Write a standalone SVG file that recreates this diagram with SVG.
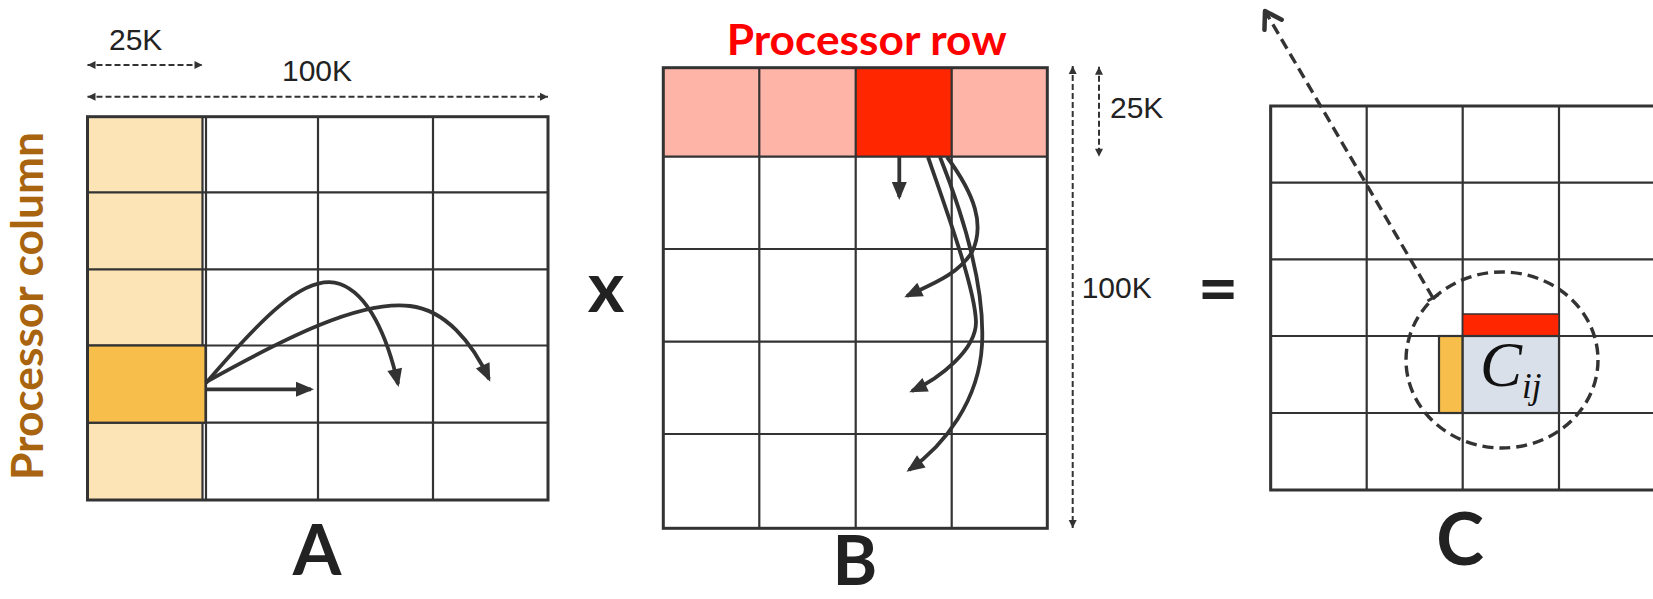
<svg xmlns="http://www.w3.org/2000/svg" width="1653" height="599" viewBox="0 0 1653 599">
<style>
.grid{fill:none;stroke:#333;stroke-width:2.2}
.border{fill:none;stroke:#333;stroke-width:3}
.cell{stroke:#333;stroke-width:2.2}
.dim{fill:none;stroke:#333;stroke-width:2;stroke-dasharray:6 3;marker-start:url(#dimhead);marker-end:url(#dimhead)}
.dimtxt{font-family:"Liberation Sans",Arial,sans-serif;font-size:30px;fill:#222}
.big{font-family:Lato,"Open Sans",sans-serif;font-weight:bold;font-size:70px;fill:#222;text-anchor:middle}
.flow{fill:none;stroke:#333;stroke-width:3.8;marker-end:url(#head)}
.ltorange{fill:#FCE4B7}
.orange{fill:#F8BE4B}
.pink{fill:#FFB4A8}
.red{fill:#FF2600}
.dash{fill:none;stroke:#333;stroke-width:3.4;stroke-dasharray:11 6}
</style>
<defs>
<marker id="dimhead" markerUnits="userSpaceOnUse" markerWidth="10" markerHeight="10" refX="8" refY="4" orient="auto-start-reverse" overflow="visible"><path d="M0,0 L8,4 L0,8z" fill="#333"/></marker>
<marker id="head" markerUnits="userSpaceOnUse" markerWidth="20" markerHeight="16" refX="15" refY="7.5" orient="auto" overflow="visible"><path d="M0,0 L18,7.5 L0,15z" fill="#333"/></marker>
<marker id="openhead" markerUnits="userSpaceOnUse" markerWidth="22" markerHeight="22" refX="19" refY="11" orient="auto" overflow="visible"><path d="M3,1 L19,11 L3,21" fill="none" stroke="#333" stroke-width="4.5" stroke-linecap="round" stroke-linejoin="round"/></marker>
</defs>

<g id="matrix-A">
<rect class="ltorange" x="87.5" y="116.7" width="115" height="383.3"/>
<path class="grid" d="M202.5,116.7V500 M206,116.7V500 M318,116.7V500 M433,116.7V500 M87.5,192.3H548 M87.5,269.3H548 M87.5,345.5H548 M87.5,422.7H548"/>
<rect class="orange cell" x="87.5" y="345.5" width="118" height="77.2"/>
<rect class="border" x="87.5" y="116.7" width="460.5" height="383.3"/>
<text class="big" x="317" y="575">A</text>
</g>

<g id="label-processor-column">
<text transform="translate(43,480) rotate(-90)" textLength="348" lengthAdjust="spacingAndGlyphs" style="font-family:Lato,'Open Sans',sans-serif;font-weight:bold;font-size:44px;fill:#A9640F">Processor column</text>
</g>

<g id="dims-A">
<path class="dim" d="M87.5,65H202.5"/>
<path class="dim" d="M87.5,96.7H548"/>
<text class="dimtxt" x="109" y="50">25K</text>
<text class="dimtxt" x="282" y="81">100K</text>
</g>

<g id="times-sign">
<text class="big" x="606" y="311.5">x</text>
</g>

<g id="matrix-B">
<rect class="pink" x="663.3" y="67.7" width="384" height="89"/>
<rect class="red" x="855.7" y="67.7" width="96" height="89"/>
<path class="grid" d="M759.3,67.7V528.3 M855.7,67.7V528.3 M951.7,67.7V528.3 M663.3,156.7H1047.3 M663.3,249H1047.3 M663.3,341.7H1047.3 M663.3,434H1047.3"/>
<rect class="border" x="663.3" y="67.7" width="384" height="460.6"/>
<text x="866.7" y="55" text-anchor="middle" textLength="280" lengthAdjust="spacingAndGlyphs" style="font-family:Lato,'Open Sans',sans-serif;font-weight:bold;font-size:42px;fill:#FF0000">Processor row</text>
<text class="big" x="855" y="585" style="font-size:68px">B</text>
</g>

<g id="dims-B">
<path class="dim" d="M1072.7,66V528"/>
<path class="dim" d="M1099,66.7V156.7"/>
<text class="dimtxt" x="1110" y="118.3">25K</text>
<text class="dimtxt" x="1081.7" y="298.3">100K</text>
</g>

<g id="equals-sign">
<text class="big" x="1218" y="313">=</text>
</g>

<g id="matrix-C">
<path class="grid" d="M1270.7,106V490 M1366.7,106V490 M1462.7,106V490 M1559,106V490 M1270.7,106H1655 M1270.7,182.7H1655 M1270.7,259.3H1655 M1270.7,336H1655 M1270.7,413H1655 M1270.7,490H1655"/>
<path class="border" d="M1655,106H1270.7V490H1655"/>
<rect class="red" x="1462.7" y="314" width="96.3" height="22" stroke="#333" stroke-width="1.5"/>
<rect class="orange cell" x="1439" y="336" width="23.7" height="77"/>
<rect class="cell" x="1462.7" y="336" width="96.3" height="77" fill="#DAE0EA"/>
<text x="1480" y="386" style="font-family:'Liberation Serif','Times New Roman',serif;font-style:italic;font-size:63px;fill:#111">C<tspan dy="12" style="font-size:35px">ij</tspan></text>
<ellipse class="dash" cx="1502" cy="360" rx="96" ry="88"/>
<text class="big" x="1460" y="565" style="font-size:72px">C</text>
</g>

<g id="connectors">
<path class="flow" d="M206,389.3H311"/>
<path class="flow" d="M206,383 C260,320 305,272 340,284 C368,294 387,335 398,384"/>
<path class="flow" d="M206,382 C285,338 360,300 410,306 C445,310 472,342 489,379"/>
<path class="flow" d="M899.3,157V197"/>
<path class="flow" d="M947,157 C975,195 985,225 972,252 C958,275 930,285 907,296"/>
<path class="flow" d="M928,157 C950,220 975,290 976,322 C976,350 940,378 912,391"/>
<path class="flow" d="M940,157 C965,220 985,290 982,345 C979,400 945,445 909,470"/>
<path class="dash" d="M1433,298 L1265,11" marker-end="url(#openhead)"/>
<path d="M1427.5,301 L1438.5,294.6" fill="none" stroke="#333" stroke-width="3"/>
</g>
</svg>
